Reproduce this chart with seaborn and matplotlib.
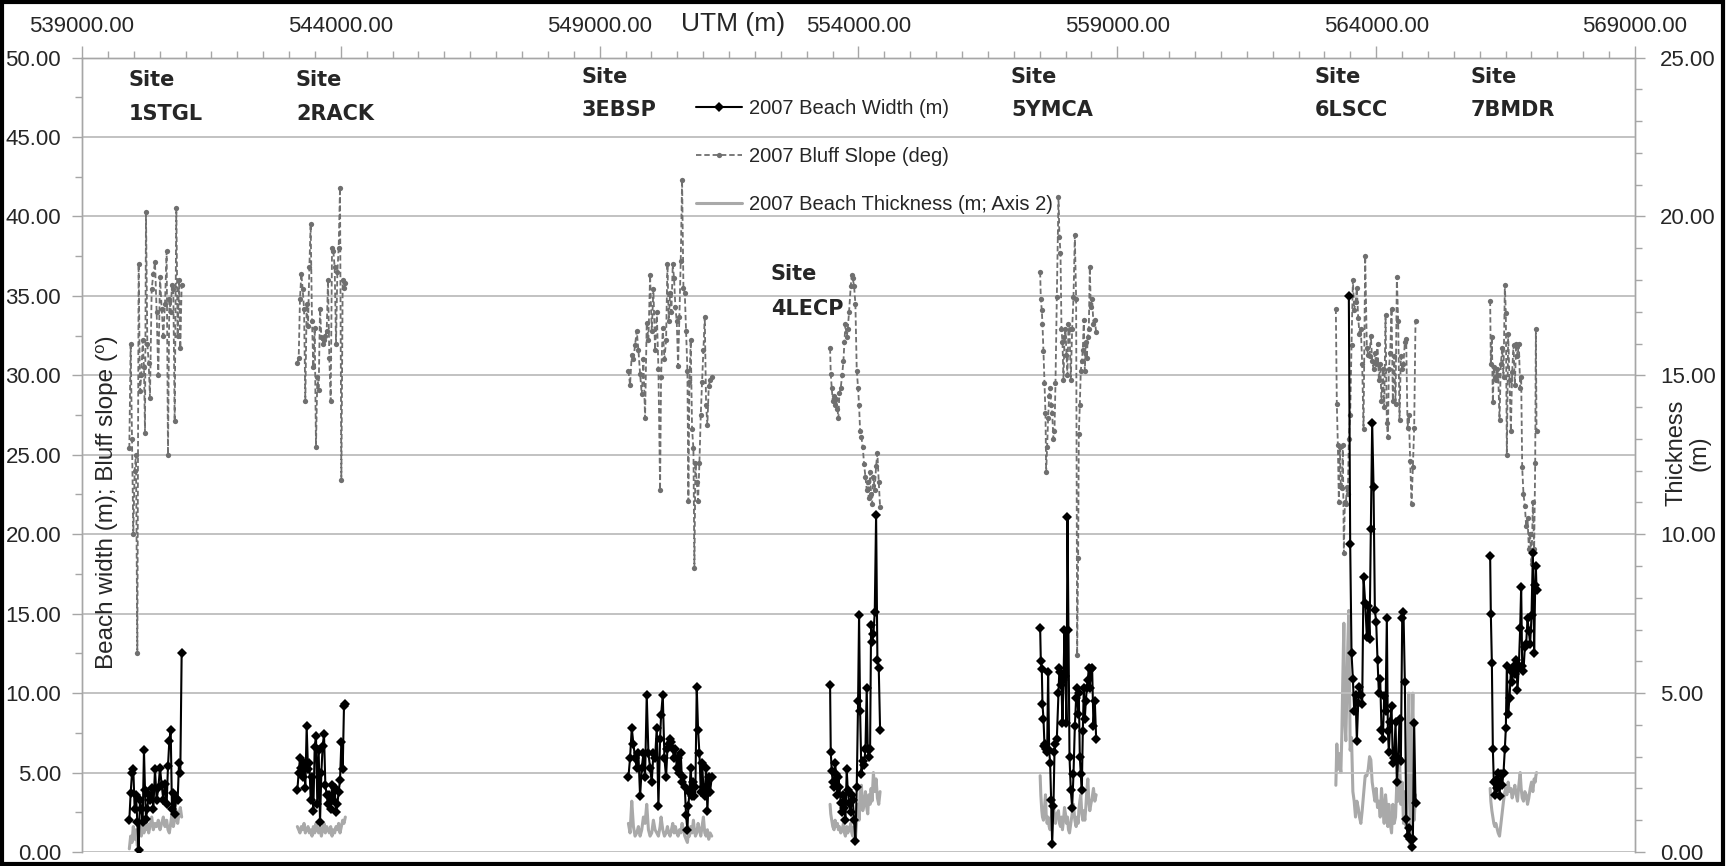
import numpy as np
import pandas as pd
import matplotlib
matplotlib.use("Agg")
import matplotlib.pyplot as plt
import seaborn as sns
from matplotlib.ticker import MultipleLocator, FormatStrFormatter
from matplotlib.lines import Line2D
from matplotlib.patches import Rectangle

nan = np.nan

# ---------------- data (UTM easting, m) ----------------
site_names = ["1STGL", "2RACK", "3EBSP", "4LECP", "5YMCA", "6LSCC", "7BMDR"]

s1_utm = [539914, 539940, 539966, 539991, 540017, 540043, 540069, 540094, 540120, 540146,
          540172, 540197, 540217, 540236, 540262, 540288, 540313, 540346, 540378, 540410,
          540442, 540474, 540507, 540539, 540571, 540603, 540635, 540661, 540687, 540713,
          540738, 540764, 540790, 540822, 540848, 540874, 540899, 540925]
s1_slope = [25.4, 32.0, 26.0, 20.0, 24.0, 25.0, 12.5, 37.0, 29.0, 30.0, 32.2, 30.5, 26.4, 40.3,
            32.0, 30.8, 28.6, 35.4, 36.4, 37.1, 34.0, 30.0, 36.2, 34.2, 32.5, 34.5, 37.8, 25.0,
            34.8, 34.0, 35.7, 35.4, 27.1, 40.5, 32.5, 36.0, 31.7, 35.7]
s1_width = [2.0, 3.7, 5.0, 5.2, 2.7, 3.6, 1.9, 0.1, 3.3, 2.7, 1.9, 6.4, 3.9, 2.1, 2.7, 3.6, 3.3,
            4.0, 2.7, 5.2, 3.3, 4.0, 5.3, 4.2, 3.3, 4.3, 3.0, 5.4, 7.0, 7.7, 2.7, 3.7, 2.4, 3.4,
            3.3, 5.6, 5.0, 12.5]
s1_thick = [0.1, 0.5, 0.3, 0.8, 0.4, 0.7, 0.2, 0.6, 0.9, 0.5, 0.8, 0.6, 1.0, 0.7, 0.9, 0.6, 0.8,
            1.1, 0.7, 0.9, 0.8, 1.0, 0.7, 0.9, 1.1, 0.8, 1.0, 0.7, 0.6, 0.9, 1.2, 0.8, 1.0, 1.3,
            0.9, 1.2, 1.4, 1.1]

s2_utm = [543160, 543186, 543211, 543237, 543263, 543289, 543314, 543340, 543366, 543392,
          543417, 543443, 543469, 543495, 543520, 543546, 543572, 543598, 543624, 543649,
          543675, 543701, 543727, 543752, 543778, 543804, 543830, 543855, 543881, 543907,
          543933, 543958, 543984, 544010, 544036, 544061, 544087]
s2_slope = [30.8, 31.1, 34.8, 36.4, 35.4, 34.2, 28.4, 34.5, 33.1, 36.8, 39.5, 33.4, 30.5, 33.0,
            25.5, 29.9, 29.1, 34.2, 32.4, 32.0, 32.2, 32.5, 32.8, 36.0, 31.1, 28.4, 38.0, 37.8,
            36.8, 32.0, 36.5, 38.0, 41.8, 23.4, 36.0, 35.5, 35.8]
s2_width = [3.9, 5.0, 5.9, 5.3, 4.7, 5.6, 4.0, 7.9, 5.2, 5.6, 3.3, 4.7, 2.6, 6.6, 7.3, 3.0, 6.4,
            1.9, 5.0, 6.7, 7.4, 4.2, 3.6, 3.0, 3.6, 2.7, 4.2, 3.3, 4.0, 2.5, 3.0, 3.8, 4.5, 6.9,
            5.2, 9.2, 9.3]
s2_thick = [0.8, 0.7, 0.6, 0.8, 0.7, 0.9, 0.6, 0.7, 0.8, 0.6, 0.7, 0.5, 0.8, 0.6, 0.9, 0.7, 0.6,
            0.8, 0.5, 0.7, 0.9, 0.6, 0.8, 0.7, 0.6, 0.8, 0.5, 0.7, 0.6, 0.8, 0.7, 0.9, 0.6, 0.8,
            1.0, 0.9, 1.1]

s3_utm = [549555, 549587, 549620, 549652, 549684, 549716, 549748, 549781, 549813, 549845,
          549877, 549909, 549942, 549974, 550006, 550038, 550070, 550103, 550135, 550167,
          550186, 550219, 550251, 550283, 550309, 550334, 550360, 550386, 550412, 550437,
          550463, 550489, 550515, 550540, 550566, 550592, 550618, 550644, 550669, 550695,
          550714, 550734, 550759, 550785, 550811, 550830, 550850, 550875, 550901, 550927,
          550953, 550978, 551004, 551030, 551056, 551081, 551107, 551133, 551165]
s3_slope = [30.3, 29.4, 31.3, 31.0, 31.9, 32.8, 31.6, 30.1, 28.8, 31.0, 27.3, 33.3, 32.2, 36.3,
            32.8, 35.4, 31.6, 34.0, 30.4, 22.8, 29.9, 33.0, 31.0, 32.2, 37.0, 33.4, 35.2, 34.0,
            37.0, 36.1, 34.3, 33.4, 30.6, 33.7, 37.2, 42.3, 35.5, 35.2, 32.8, 30.3, 22.1, 29.6,
            32.2, 26.6, 25.4, 17.9, 24.5, 23.3, 22.1, 24.5, 27.5, 29.6, 31.6, 33.7, 28.1, 26.9,
            29.3, 29.7, 29.9]
s3_width = [4.7, 5.9, 7.8, 6.8, 5.9, 5.3, 6.2, 3.5, 5.3, 6.2, 4.7, 9.9, 6.2, 5.3, 4.4, 6.2, 5.9,
            7.8, 2.9, 7.1, 8.6, 9.9, 5.9, 4.7, 6.5, 6.8, 7.1, 6.9, 6.5, 5.9, 6.5, 5.3, 5.9, 5.0,
            6.2, 4.4, 4.7, 4.1, 2.3, 1.4, 2.9, 3.8, 5.3, 3.5, 4.4, 3.5, 4.1, 10.4, 7.7, 6.2, 3.8,
            5.6, 4.1, 3.5, 5.3, 2.6, 4.7, 3.8, 4.7]
s3_thick = [0.9, 0.6, 1.6, 0.8, 0.5, 0.6, 0.8, 0.5, 0.7, 1.1, 0.9, 1.5, 0.7, 0.5, 0.6, 1.0, 0.7,
            0.6, 0.5, 0.8, 1.1, 0.7, 0.5, 0.6, 0.8, 0.6, 0.5, 0.7, 0.9, 0.6, 0.8, 0.6, 0.5, 0.7,
            0.6, 0.9, 0.7, 0.5, 0.4, 0.3, 0.6, 0.5, 0.8, 0.6, 1.0, 0.7, 0.5, 0.6, 0.9, 0.7, 0.5,
            0.8, 1.1, 0.6, 0.5, 0.7, 0.4, 0.6, 0.5]

s4_utm = [553451, 553464, 553483, 553503, 553528, 553548, 553567, 553593, 553612, 553631,
          553657, 553683, 553709, 553728, 553747, 553773, 553792, 553818, 553850, 553870,
          553889, 553915, 553940, 553966, 553992, 554011, 554031, 554056, 554082, 554108,
          554134, 554159, 554179, 554198, 554224, 554243, 554262, 554288, 554314, 554340,
          554365, 554391, 554417]
s4_slope = [31.7, 30.1, 29.2, 28.4, 28.7, 28.1, 28.5, 27.9, 27.3, 28.9, 29.2, 30.0, 30.9, 32.1,
            33.2, 32.4, 32.9, 34.0, 35.6, 36.3, 36.1, 35.6, 34.5, 30.3, 29.2, 28.1, 26.5, 26.1,
            25.5, 24.4, 23.6, 22.8, 23.3, 22.3, 23.9, 22.5, 21.9, 23.6, 22.8, 24.3, 25.1, 23.3,
            21.7]
s4_width = [10.5, 6.3, 5.1, 4.4, 4.1, 5.6, 4.9, 3.6, 4.7, 4.1, 3.1, 2.5, 3.6, 2.8, 2.0, 5.2, 3.9,
            3.1, 2.5, 3.6, 3.3, 2.0, 0.7, 4.1, 9.5, 14.9, 8.9, 4.9, 5.7, 5.5, 6.5, 10.3, 6.5, 6.0,
            6.5, 14.3, 13.2, 13.7, 15.1, 21.2, 12.1, 11.6, 7.7]
s4_thick = [1.5, 1.2, 1.0, 0.8, 0.7, 1.0, 0.8, 0.9, 0.7, 0.8, 0.6, 0.7, 0.9, 0.6, 0.5, 0.8, 0.6,
            0.7, 0.9, 0.6, 0.5, 0.8, 0.4, 1.0, 1.5, 1.0, 1.9, 2.1, 1.3, 1.5, 1.9, 1.4, 1.2, 1.8,
            1.5, 2.0, 1.6, 2.5, 1.9, 2.3, 1.7, 1.5, 1.9]

s5_utm = [557509, 557522, 557541, 557554, 557573, 557593, 557612, 557625, 557644, 557663,
          557683, 557702, 557721, 557741, 557766, 557786, 557805, 557831, 557863, 557882,
          557902, 557921, 557940, 557960, 557979, 557998, 558018, 558037, 558056, 558076,
          558101, 558127, 558153, 558179, 558204, 558224, 558243, 558256, 558275, 558294,
          558314, 558333, 558352, 558372, 558391, 558410, 558430, 558449, 558468, 558488,
          558513, 558539, 558565, 558591]
s5_slope = [36.5, 34.8, 34.1, 33.2, 31.5, 29.5, 27.6, 23.9, 25.5, 27.3, 28.7, 29.2, 28.1, 27.6,
            26.0, 26.5, 29.5, 34.9, 41.2, 38.7, 37.7, 32.9, 32.1, 29.7, 32.4, 32.9, 31.3, 30.0,
            33.2, 32.9, 29.7, 32.9, 34.9, 38.8, 34.8, 12.4, 18.5, 26.3, 28.1, 30.3, 30.9, 31.6,
            33.5, 30.3, 32.1, 31.1, 32.4, 32.9, 36.8, 34.3, 34.8, 33.2, 33.5, 32.7]
s5_width = [14.1, 12.0, 11.5, 9.3, 8.4, 6.7, 6.8, 6.5, 6.3, 11.3, 6.4, 5.6, 3.3, 0.5, 2.9, 6.3,
            6.8, 7.1, 10.0, 11.6, 11.3, 10.5, 8.1, 10.8, 14.0, 11.1, 8.1, 21.1, 14.0, 6.0, 3.9,
            2.8, 4.9, 7.9, 9.7, 10.3, 8.7, 10.0, 6.0, 4.9, 3.9, 7.6, 10.3, 8.4, 9.5, 10.3, 10.8,
            11.6, 10.3, 11.5, 11.6, 7.9, 9.5, 7.1]
s5_thick = [2.4, 1.8, 1.3, 1.1, 1.0, 1.4, 1.8, 1.2, 0.9, 1.1, 0.8, 0.7, 1.0, 1.3, 1.5, 1.1, 0.9,
            1.2, 1.3, 0.9, 0.8, 1.1, 0.7, 1.0, 1.4, 1.2, 0.9, 1.1, 0.7, 0.6, 0.9, 1.2, 1.5, 1.0,
            0.8, 1.1, 0.9, 1.3, 1.6, 1.8, 1.2, 1.0, 1.3, 1.0, 1.4, 1.9, 2.3, 1.6, 1.3, 1.5, 1.7,
            2.0, 1.6, 1.8]

s6_utm = [563221, 563240, 563260, 563279, 563298, 563318, 563337, 563356, 563376, 563395,
          563414, 563434, 563453, 563472, 563498, 563524, 563550, 563575, 563601, 563627,
          563653, 563678, 563704, 563730, 563756, 563788, 563820, 563846, 563872, 563897,
          563923, 563949, 563975, 564000, 564026, 564052, 564078, 564103, 564129, 564155,
          564181, 564206, 564226, 564245, 564271, 564297, 564322, 564348, 564374, 564400,
          564425, 564451, 564477, 564503, 564528, 564554, 564580, 564606, 564631, 564657,
          564683, 564709, 564734, 564760]
s6_slope = [34.2, 28.2, 25.6, 22.0, 25.5, 23.0, 22.9, 25.6, 18.8, 22.0, 21.9, 23.0, 22.5, 26.0,
            27.5, 31.9, 36.0, 34.1, 34.6, 35.5, 33.6, 32.6, 32.9, 30.7, 26.6, 37.5, 31.7, 31.3,
            31.2, 32.5, 30.9, 30.4, 31.4, 30.7, 32.0, 29.7, 30.7, 28.4, 30.4, 28.0, 33.8, 27.0,
            26.1, 30.4, 31.4, 34.2, 28.4, 31.2, 28.2, 36.2, 33.4, 27.2, 31.2, 30.4, 30.7, 32.1,
            32.3, 26.7, 27.5, 24.6, 21.9, 24.2, 26.7, 33.4]
s6_width = [nan, nan, nan, nan, nan, nan, nan, nan, nan, nan, nan, nan, nan, 35.0,
            19.4, 12.5, 10.9, 8.9, 9.9, 7.0, 9.4, 10.4, 9.9, 9.3, 17.3, 15.7, 13.5, 15.5,
            13.4, 20.3, 27.0, 23.0, 15.2, 14.5, 12.1, 10.0, 10.9, 7.7, 7.1, 9.8, 8.9, 14.7,
            7.6, 6.3, 8.2, 9.2, 5.6, 5.9, 8.2, 4.4, 5.9, 8.4, 5.7, 14.7, 15.1, 10.7,
            2.1, 1.0, 1.5, 0.8, 0.3, 0.8, 8.1, 3.1]
s6_thick = [2.1, 3.4, 2.6, 3.1, 2.8, 2.5, 3.7, 5.5, 7.2, 4.1, 3.5, 5.0, 6.6, 7.6, 3.2, 3.6, 1.9,
            1.6, 1.1, 1.6, 1.4, 1.1, 0.9, 1.3, 1.8, 2.4, 2.4, 2.6, 3.0, 2.9, 2.2, 1.9, 1.6, 2.0,
            1.4, 1.6, 1.1, 2.0, 1.4, 0.9, 1.8, 1.3, 0.8, 1.5, 0.9, 0.6, 1.5, 0.9, 1.1, 2.2, 1.6,
            3.0, 1.5, 2.2, 0.9, 1.9, 0.8, 2.9, 5.0, 0.1, 3.0, 5.0, 1.0, 1.8]

s7_utm = [566202, 566215, 566235, 566254, 566273, 566293, 566312, 566331, 566357, 566383,
          566408, 566434, 566460, 566486, 566505, 566524, 566550, 566576, 566602, 566627,
          566653, 566679, 566705, 566730, 566756, 566782, 566801, 566821, 566846, 566872,
          566898, 566924, 566949, 566975, 567001, 567027, 567052, 567072, 567085, 567098]
s7_slope = [34.7, 30.7, 32.4, 28.3, 30.5, 29.9, 29.7, 30.4, 30.0, 27.2, 30.7, 31.7, 29.9, 35.7,
            33.9, 25.0, 32.6, 29.7, 26.5, 30.2, 31.9, 29.4, 32.0, 31.2, 32.0, 29.2, 29.9, 24.2,
            22.5, 21.8, 20.5, 21.0, 19.1, 20.0, 18.1, 22.0, 19.1, 24.5, 32.9, 26.5]
s7_width = [18.6, 15.0, 11.9, 6.5, 4.4, 3.6, 4.5, 4.0, 5.0, 3.5, 4.9, 4.2, 5.0, 6.5, 7.8, 11.7,
            8.7, 9.7, 11.4, 10.7, 11.7, 11.2, 12.1, 10.2, 11.7, 14.1, 16.7, 11.7, 11.4, 12.9,
            13.1, 14.7, 13.9, 13.1, 14.9, 18.8, 12.5, 16.8, 18.0, 16.5]
s7_thick = [2.0, 1.6, 1.3, 1.1, 0.9, 0.8, 0.9, nan, 0.6, 0.5, nan, nan, 1.6, 1.9, 2.0, 1.8, 2.2,
            1.9, 2.0, 1.7, 1.9, 2.1, 1.8, 1.6, 2.1, 2.5, 2.0, 1.7, 1.6, 1.9, 1.8, 1.5, 1.7, 2.0,
            2.2, 1.9, 2.3, 2.2, 2.4, 2.5]

series_labels = ["2007 Beach Width (m)", "2007 Bluff Slope (deg)",
                 "2007 Beach Thickness (m; Axis 2)"]

# ---------------- build long table ----------------
site_data = [
    (site_names[0], s1_utm, s1_width, s1_slope, s1_thick),
    (site_names[1], s2_utm, s2_width, s2_slope, s2_thick),
    (site_names[2], s3_utm, s3_width, s3_slope, s3_thick),
    (site_names[3], s4_utm, s4_width, s4_slope, s4_thick),
    (site_names[4], s5_utm, s5_width, s5_slope, s5_thick),
    (site_names[5], s6_utm, s6_width, s6_slope, s6_thick),
    (site_names[6], s7_utm, s7_width, s7_slope, s7_thick),
]
frames = []
for name, u, w, s, t in site_data:
    frames.append(pd.DataFrame({"site": name, "utm": u, "width": w, "slope": s, "thick": t}))
df = pd.concat(frames, ignore_index=True)

# ---------------- style ----------------
sns.set_theme(style="white")
plt.rcParams["font.family"] = ["Liberation Sans", "DejaVu Sans"]

W, H = 1733, 866
fig = plt.figure(figsize=(W / 100, H / 100), dpi=100)
fig.patch.set_facecolor("white")

L, R, T, B = 82, 1635, 57.5, 852
ax = fig.add_axes([L / W, 1 - B / H, (R - L) / W, (B - T) / H])
ax2 = ax.twinx()
ax.set_zorder(ax2.get_zorder() + 1)
ax.patch.set_visible(False)

grid_c = "#BDBDBD"
spine_c = "#A6A6A6"

# Beach thickness (secondary axis)
sns.lineplot(data=df, x="utm", y="thick", units="site", estimator=None, ax=ax2,
             color="#A9A9A9", linewidth=2.2, legend=False)
# Bluff slope
sns.lineplot(data=df, x="utm", y="slope", units="site", estimator=None, ax=ax,
             color="#6F6F6F", linewidth=1.3, linestyle=(0, (3, 1.6)), marker="o",
             markersize=3.8, markeredgewidth=0, legend=False)
# Beach width
sns.lineplot(data=df, x="utm", y="width", units="site", estimator=None, ax=ax,
             color="black", linewidth=1.5, marker="D", markersize=4.8,
             markeredgewidth=0, markerfacecolor="black", legend=False)

# axes limits & ticks
ax.set_xlim(539000, 569000)
ax.set_ylim(0, 50)
ax2.set_ylim(0, 25)
ax.set_xlabel("")
ax.set_ylabel("")
ax2.set_ylabel("")

ax.xaxis.tick_top()
ax.xaxis.set_major_locator(MultipleLocator(5000, offset=4000))
ax.xaxis.set_minor_locator(MultipleLocator(500))
ax.xaxis.set_major_formatter(FormatStrFormatter("%.2f"))
ax.yaxis.set_major_locator(MultipleLocator(5))
ax.yaxis.set_minor_locator(MultipleLocator(2.5))
ax.yaxis.set_major_formatter(FormatStrFormatter("%.2f"))
ax2.yaxis.set_major_locator(MultipleLocator(5))
ax2.yaxis.set_minor_locator(MultipleLocator(1))
ax2.yaxis.set_major_formatter(FormatStrFormatter("%.2f"))

tick_fs = 16
ax.tick_params(axis="x", which="major", direction="out", length=9, width=1, color=spine_c,
               labelsize=tick_fs, pad=6, top=True, bottom=False, labeltop=True, labelbottom=False)
ax.tick_params(axis="x", which="minor", direction="out", length=5, width=1, color=spine_c,
               top=True, bottom=False)
ax.tick_params(axis="y", which="major", direction="out", length=7, width=1, color=spine_c,
               labelsize=tick_fs, pad=8, left=True, right=False)
ax.tick_params(axis="y", which="minor", direction="out", length=5, width=1, color=spine_c,
               left=True, right=False)
ax2.tick_params(axis="y", which="major", direction="out", length=7, width=1, color=spine_c,
                labelsize=tick_fs, pad=11, right=True, left=False)
ax2.tick_params(axis="y", which="minor", direction="out", length=5, width=1, color=spine_c,
                right=True, left=False)
ax2.tick_params(axis="x", which="both", bottom=False, top=False, labelbottom=False)

ax.grid(False)
ax2.grid(False)
ax.yaxis.grid(True, which="major", color=grid_c, linewidth=1.3)
ax.set_axisbelow(True)

for a in (ax, ax2):
    for side in ("top", "left", "right"):
        a.spines[side].set_color(spine_c)
        a.spines[side].set_linewidth(1.0)
    a.spines["bottom"].set_visible(False)

# legend
handles = [
    Line2D([], [], color="black", linewidth=1.5, marker="D", markersize=4.8, markeredgewidth=0),
    Line2D([], [], color="#6F6F6F", linewidth=1.3, linestyle=(0, (3, 1.6)), marker="o",
           markersize=3.8, markeredgewidth=0),
    Line2D([], [], color="#A9A9A9", linewidth=2.2),
]
fig.legend(handles, series_labels, loc="upper left", bbox_to_anchor=(696 / W, 1 - 99 / H),
           frameon=False, fontsize=14.5, handlelength=2.3, handletextpad=0.35,
           labelspacing=1.45, borderpad=0, borderaxespad=0)

# site labels
site_label_pos = [(129, 80, 114), (296, 80, 114), (582, 77, 110), (771, 274, 309),
                  (1011, 77, 110), (1315, 77, 110), (1471, 77, 110)]
for name, (px, py1, py2) in zip(site_names, site_label_pos):
    fig.text(px / W, 1 - py1 / H, "Site", ha="left", va="center", fontsize=15,
             fontweight="bold", family="DejaVu Sans")
    fig.text(px / W, 1 - py2 / H, name, ha="left", va="center", fontsize=15,
             fontweight="bold", family="DejaVu Sans")

# axis titles
fig.text(733 / W, 1 - 24 / H, "UTM (m)", ha="center", va="center", fontsize=19)
fig.text(107 / W, 1 - 502 / H, "Beach width (m); Bluff slope (\u2070)", rotation=90,
         ha="center", va="center", fontsize=17.5)
fig.text(1688 / W, 1 - 453 / H, "Thickness\n(m)", rotation=90, ha="center", va="center",
         fontsize=17, multialignment="center", linespacing=1.1)

# outer frame
fig.add_artist(Rectangle((2 / W, 2 / H), (1723 - 2) / W, (H - 4) / H, transform=fig.transFigure,
                         fill=False, edgecolor="black", linewidth=3))

fig.savefig("out.png", dpi=100, facecolor="white")
